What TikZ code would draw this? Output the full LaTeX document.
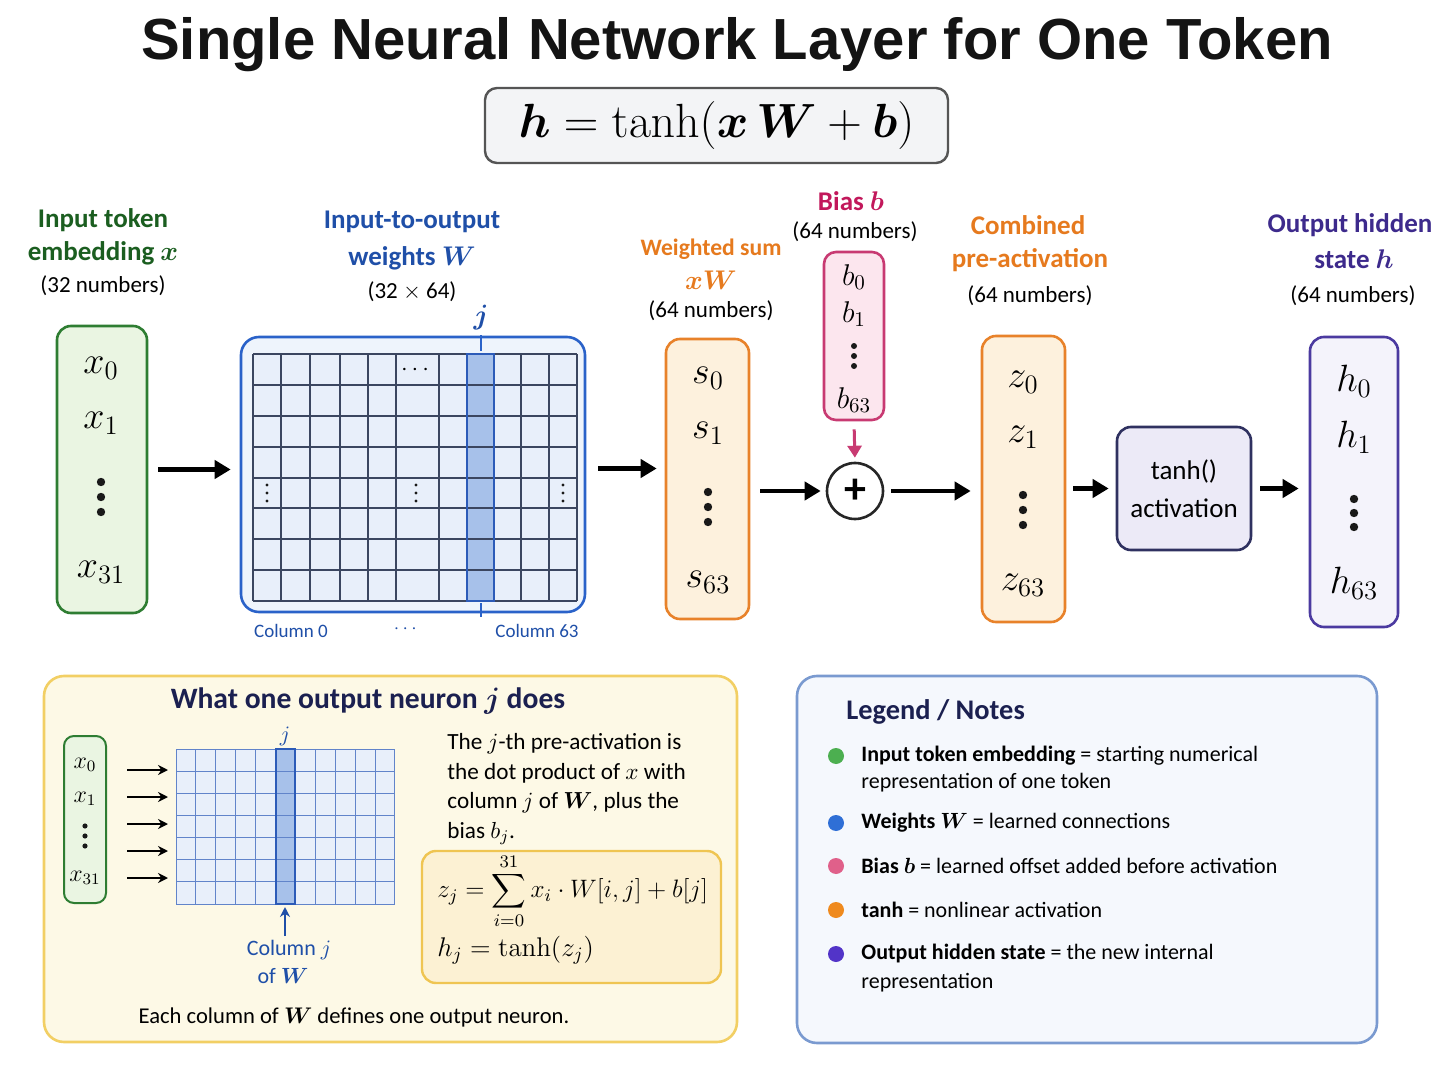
\RequirePackage{fix-cm}
\documentclass[tikz,border=0pt]{standalone}
\usepackage{amsmath}
\usepackage[no-math]{fontspec}
\usepackage{bm}
\setmainfont{Carlito}
\newfontfamily\titlefont{Liberation Sans}
\usetikzlibrary{arrows.meta}
\newcommand\fsz[1]{\fontsize{#1}{#1}\selectfont}
\definecolor{gtxt}{HTML}{1B5E20}
\definecolor{gbd}{HTML}{2E7D32}
\definecolor{gbg}{HTML}{EAF5E2}
\definecolor{btxt}{HTML}{1F4FA8}
\definecolor{bbd}{HTML}{2A62C9}
\definecolor{bbg}{HTML}{EEF4FC}
\definecolor{cellbg}{HTML}{E8EFFA}
\definecolor{gridc}{HTML}{3B4660}
\definecolor{hl}{HTML}{A7C1EA}
\definecolor{hlbd}{HTML}{2C5BB8}
\definecolor{otxt}{HTML}{E67A1E}
\definecolor{obd}{HTML}{E8822A}
\definecolor{obg}{HTML}{FDF1DD}
\definecolor{ptxt}{HTML}{C2185B}
\definecolor{pbd}{HTML}{C83A72}
\definecolor{pbg}{HTML}{FCE6EE}
\definecolor{tbd}{HTML}{2F3160}
\definecolor{tbg}{HTML}{ECEAF7}
\definecolor{vtxt}{HTML}{3D2A8C}
\definecolor{vbd}{HTML}{4B3AA0}
\definecolor{vbg}{HTML}{F4F3FB}
\definecolor{ybd}{HTML}{F2CF64}
\definecolor{ybg}{HTML}{FDF9E6}
\definecolor{ybd2}{HTML}{EFC552}
\definecolor{ybg2}{HTML}{FCF1D3}
\definecolor{lbd}{HTML}{7A9AD0}
\definecolor{lbg}{HTML}{F5F8FD}
\definecolor{navy}{HTML}{1B2050}
\definecolor{eqbd}{HTML}{555555}
\definecolor{eqbg}{HTML}{F3F4F6}
\definecolor{dgreen}{HTML}{4CAF50}
\definecolor{dblue}{HTML}{2F6FD6}
\definecolor{dpink}{HTML}{E0608A}
\definecolor{dorange}{HTML}{EF8A1E}
\definecolor{dpurple}{HTML}{5234C8}
\begin{document}
\begin{tikzpicture}[x=0.5pt,y=-0.5pt,
  arr/.style={line width=2.3pt,-{Triangle[length=8pt,width=9pt]}},
  sarr/.style={line width=1.3pt,-{Stealth[length=5pt,width=5pt]}},
  vecbox/.style={draw, rounded corners=7pt, line width=1.3pt},
  ent/.style={font=\fsz{19}, inner sep=0pt},
  bent/.style={font=\fsz{15}, inner sep=0pt},
  sent/.style={font=\fsz{12}, inner sep=0pt},
  lab/.style={font=\fsz{13.5}\bfseries, inner sep=0pt},
  num/.style={font=\fsz{11.5}, text=black, inner sep=0pt},
  coll/.style={font=\fsz{9.5}, text=btxt, inner sep=0pt},
  body/.style={font=\fsz{11.3}, text=black, inner sep=0pt},
  leg/.style={font=\fsz{11}, text=black, anchor=west, inner sep=0pt},
  dot/.style={circle, inner sep=0pt, minimum size=8pt},
  gline/.style={draw=gridc, line width=0.6pt},
  sgline/.style={draw=hlbd!75, line width=0.45pt}
]
\path[use as bounding box] (0,0) rectangle (1448,1086);
\fill[white] (0,0) rectangle (1448,1086);

% vertical ellipsis drawn as dots: centre x, centre y, spacing, radius
\newcommand\vdts[4]{\foreach \k in {-1,0,1} \fill[black!90] (#1,{#2+\k*#3}) circle (#4);}

% title and equation
\node[font=\titlefont\bfseries\fsz{29}, text=black!92, inner sep=0pt] (title) at (737,45) {Single Neural Network Layer for One Token};
\node[draw=eqbd, fill=eqbg, line width=1.2pt, rounded corners=6pt, minimum width=231.5pt, minimum height=37.5pt] (eq) at (716.5,125.5) {\fsz{24}$\bm{h} = \tanh(\bm{x}\,\bm{W} + \bm{b})$};

% input
\node[lab, text=gtxt] (inL1) at (103,220) {Input token};
\node[lab, text=gtxt] (inL2) at (103,253) {embedding $\bm{x}$};
\node[num] (inN) at (103,286) {(32 numbers)};
\node[vecbox, draw=gbd, fill=gbg, minimum width=45pt, minimum height=143.5pt] (in) at (102,469.5) {};
\node[ent] (x0) at (101,368) {$x_0$};
\node[ent] (x1) at (101,423) {$x_1$};
\vdts{101}{497}{15}{2.1pt}
\node[ent] (x31) at (101,572) {$x_{31}$};

% weights
\node[lab, text=btxt] (wL1) at (412,222) {Input-to-output};
\node[lab, text=btxt] (wL2) at (412,258) {weights $\bm{W}$};
\node[num] (wN) at (412,292) {(32 $\times$ 64)};
\node[draw=bbd, fill=bbg, rounded corners=9pt, line width=1.3pt, minimum width=172pt, minimum height=137.5pt] (W) at (413,474.5) {};
\fill[cellbg] (253,354) rectangle (577,601);
\fill[hl] (467,354) rectangle (494,601);
\foreach \x in {253,281,310,340,368,396,439,467,494,521,549,577} \draw[gline] (\x,354) -- (\x,601);
\foreach \x in {310,340} \draw[gline, line width=1.1pt] (\x,354) -- (\x,601);
\foreach \y in {354,385,416,447,478,508,539,570,601} \draw[gline] (253,\y) -- (577,\y);
\draw[hlbd, line width=1.3pt] (467,354) rectangle (494,601);
\node[font=\fsz{12}, inner sep=0pt] (wdots) at (417,370) {$\cdots$};
\vdts{267}{493}{8}{0.8pt}
\vdts{416}{493}{8}{0.8pt}
\vdts{563}{493}{8}{0.8pt}
\node[font=\fsz{14}, text=btxt, inner sep=0pt] (jW) at (481,318) {$\bm{j}$};
\coordinate (jt1) at (481,335);
\coordinate (jt2) at (481,351);
\coordinate (jb1) at (481,603);
\coordinate (jb2) at (481,617);
\draw[bbd, line width=1.2pt] (jt1) -- (jt2);
\draw[bbd, line width=1.2pt] (jb1) -- (jb2);
\node[coll] (c0) at (291,631) {Column 0};
\node[coll] (cd) at (407,629) {$\cdots$};
\node[coll] (c63) at (537,631) {Column 63};

% weighted sum
\node[lab, text=otxt, font=\fsz{11.8}\bfseries] (sL1) at (711,249) {Weighted sum};
\node[lab, text=otxt] (sL2) at (711,280) {$\bm{x}\bm{W}$};
\node[num] (sN) at (711,311) {(64 numbers)};
\node[vecbox, draw=obd, fill=obg, minimum width=41.5pt, minimum height=140pt] (s) at (707.5,479) {};
\node[ent] (s0) at (708,378) {$s_0$};
\node[ent] (s1) at (708,433) {$s_1$};
\vdts{708}{507}{15}{2.1pt}
\node[ent] (s63) at (708,582) {$s_{63}$};

% bias
\node[lab, text=ptxt] (bL1) at (851,201) {Bias $\bm{b}$};
\node[num] (bN) at (855,232) {(64 numbers)};
\node[vecbox, draw=pbd, fill=pbg, rounded corners=6pt, minimum width=30pt, minimum height=84pt] (bias) at (854,336) {};
\node[bent] (b0) at (854,277) {$b_0$};
\node[bent] (b1) at (854,314) {$b_1$};
\vdts{854}{356}{10}{1.5pt}
\node[bent] (b63) at (854,400) {$b_{63}$};

% plus
\node[circle, draw=black!85, fill=white, line width=1.3pt, minimum size=28pt, inner sep=0pt, font=\fsz{22}\bfseries] (plus) at (855,491) {+};

% combined
\node[lab, text=otxt] (zL1) at (1028,225) {Combined};
\node[lab, text=otxt] (zL2) at (1030,260) {pre-activation};
\node[num] (zN) at (1030,296) {(64 numbers)};
\node[vecbox, draw=obd, fill=obg, minimum width=41.5pt, minimum height=143pt] (z) at (1023.5,479) {};
\node[ent] (z0) at (1023,382) {$z_0$};
\node[ent] (z1) at (1023,437) {$z_1$};
\vdts{1023}{510}{15}{2.1pt}
\node[ent] (z63) at (1023,585) {$z_{63}$};

% tanh
\node[vecbox, draw=tbd, fill=tbg, minimum width=67pt, minimum height=61.5pt, align=center, font=\fontsize{13.5}{19}\selectfont] (tanh) at (1184,488.5) {tanh()\\activation};

% output
\node[lab, text=vtxt] (hL1) at (1350,225) {Output hidden};
\node[lab, text=vtxt] (hL2) at (1354,259) {state $\bm{h}$};
\node[num] (hN) at (1353,296) {(64 numbers)};
\node[vecbox, draw=vbd, fill=vbg, minimum width=44pt, minimum height=145pt] (hv) at (1354,482) {};
\node[ent] (h0) at (1354,381) {$h_0$};
\node[ent] (h1) at (1354,437) {$h_1$};
\vdts{1354}{513}{14}{2.1pt}
\node[ent] (h63) at (1354,583) {$h_{63}$};

% main arrows
\draw[arr, shorten <=5pt, shorten >=4.5pt] (in.east) -- (in.east -| W.west);
\draw[arr, shorten <=6pt, shorten >=4pt] ([yshift=3pt]W.east) -- ([yshift=3pt]W.east -| s.west);
\draw[arr, shorten <=5pt, shorten >=2.5pt] (s.east |- plus.west) -- (plus.west);
\draw[arr, shorten <=3.5pt, shorten >=5pt] (plus.east) -- (plus.east -| z.west);
\draw[arr, shorten <=3.5pt, shorten >=3.5pt] (z.east |- tanh.west) -- (tanh.west);
\draw[arr, shorten <=4pt, shorten >=5pt] (tanh.east) -- (tanh.east -| hv.west);
\draw[line width=1.5pt, draw=pbd, -{Triangle[length=6pt,width=7pt]}, shorten <=4pt, shorten >=2pt] (bias.south) -- (plus.north);

% bottom-left panel
\node[draw=ybd, fill=ybg, line width=1.3pt, rounded corners=10pt, minimum width=346.5pt, minimum height=183pt] (panelA) at (390.5,859) {};
\node[font=\fsz{14.8}\bfseries, text=navy, inner sep=0pt] (pAt) at (368,701) {What one output neuron $\bm{j}$ does};
\node[vecbox, draw=gbd, fill=gbg, rounded corners=5pt, line width=1pt, minimum width=21pt, minimum height=83.5pt] (xs) at (85,819.5) {};
\node[sent] (xs0) at (85,765) {$x_0$};
\node[sent] (xs1) at (85,799) {$x_1$};
\vdts{85}{836}{10}{1.3pt}
\node[sent] (xs31) at (85,878) {$x_{31}$};
\fill[cellbg] (176,749) rectangle (395,904);
\fill[hl] (275,749) rectangle (295,904);
\foreach \i in {0,...,11} \draw[sgline] ({176+19.9*\i},749) -- ({176+19.9*\i},904);
\foreach \i in {0,...,7} \draw[sgline] (176,{749+22.14*\i}) -- (395,{749+22.14*\i});
\draw[hlbd, line width=1pt] (275.5,749) rectangle (295.4,904);
\foreach \y/\n in {770/a,797/b,824/c,851/d,878/e} {
  \coordinate (sa\n) at (127,\y);
  \coordinate (sb\n) at (168,\y);
  \draw[sarr] (sa\n) -- (sb\n);
}
\node[font=\fsz{11}, text=btxt, inner sep=0pt] (js) at (285,736) {$j$};
\coordinate (ua) at (285,936);
\coordinate (ub) at (285,907);
\draw[line width=1.1pt, draw=btxt, -{Stealth[length=5pt,width=5pt]}] (ua) -- (ub);
\node[font=\fsz{11}, text=btxt, inner sep=0pt] (cj1) at (289,950) {Column $j$};
\node[font=\fsz{11}, text=btxt, inner sep=0pt] (cj2) at (283,976) {of $\bm{W}$};
\node[anchor=north west, align=left, font=\fontsize{11.6}{14.75}\selectfont, inner sep=0pt] (ptxt) at (447,733) {The $j$-th pre-activation is\\the dot product of $x$ with\\column $j$ of $\bm{W}$, plus the\\bias $b_j$.};
\node[draw=ybd2, fill=ybg2, line width=1.2pt, rounded corners=7pt, minimum width=149.5pt, minimum height=66pt] (fbox) at (571.5,917) {};
\node[anchor=west, font=\fsz{12.6}, inner sep=0pt] (f1) at (437,891) {$z_j = \displaystyle\sum_{i=0}^{31} x_i \cdot W[i,j] + b[j]$};
\node[anchor=west, font=\fsz{13.5}, inner sep=0pt] (f2) at (437,950) {$h_j = \tanh(z_j)$};
\node[body] (each) at (354,1017) {Each column of $\bm{W}$ defines one output neuron.};

% legend panel
\node[draw=lbd, fill=lbg, line width=1.3pt, rounded corners=10pt, minimum width=290pt, minimum height=183.5pt] (panelB) at (1087,859.5) {};
\node[font=\fsz{14.2}\bfseries, text=navy, anchor=west, inner sep=0pt] (lt) at (846,712) {Legend / Notes};
\node[dot, fill=dgreen] (d1) at (836,756) {};
\node[dot, fill=dblue] (d2) at (836,823) {};
\node[dot, fill=dpink] (d3) at (836,866) {};
\node[dot, fill=dorange] (d4) at (836,910) {};
\node[dot, fill=dpurple] (d5) at (836,954) {};
\node[leg] (l1) at (861,756) {\textbf{Input token embedding} = starting numerical};
\node[leg] (l1b) at (861,783) {representation of one token};
\node[leg] (l2) at (861,823) {\textbf{Weights} $\bm{W}$ = learned connections};
\node[leg] (l3) at (861,866) {\textbf{Bias} $\bm{b}$ = learned offset added before activation};
\node[leg] (l4) at (861,910) {\textbf{tanh} = nonlinear activation};
\node[leg] (l5) at (861,954) {\textbf{Output hidden state} = the new internal};
\node[leg] (l5b) at (861,983) {representation};
\end{tikzpicture}
\end{document}
